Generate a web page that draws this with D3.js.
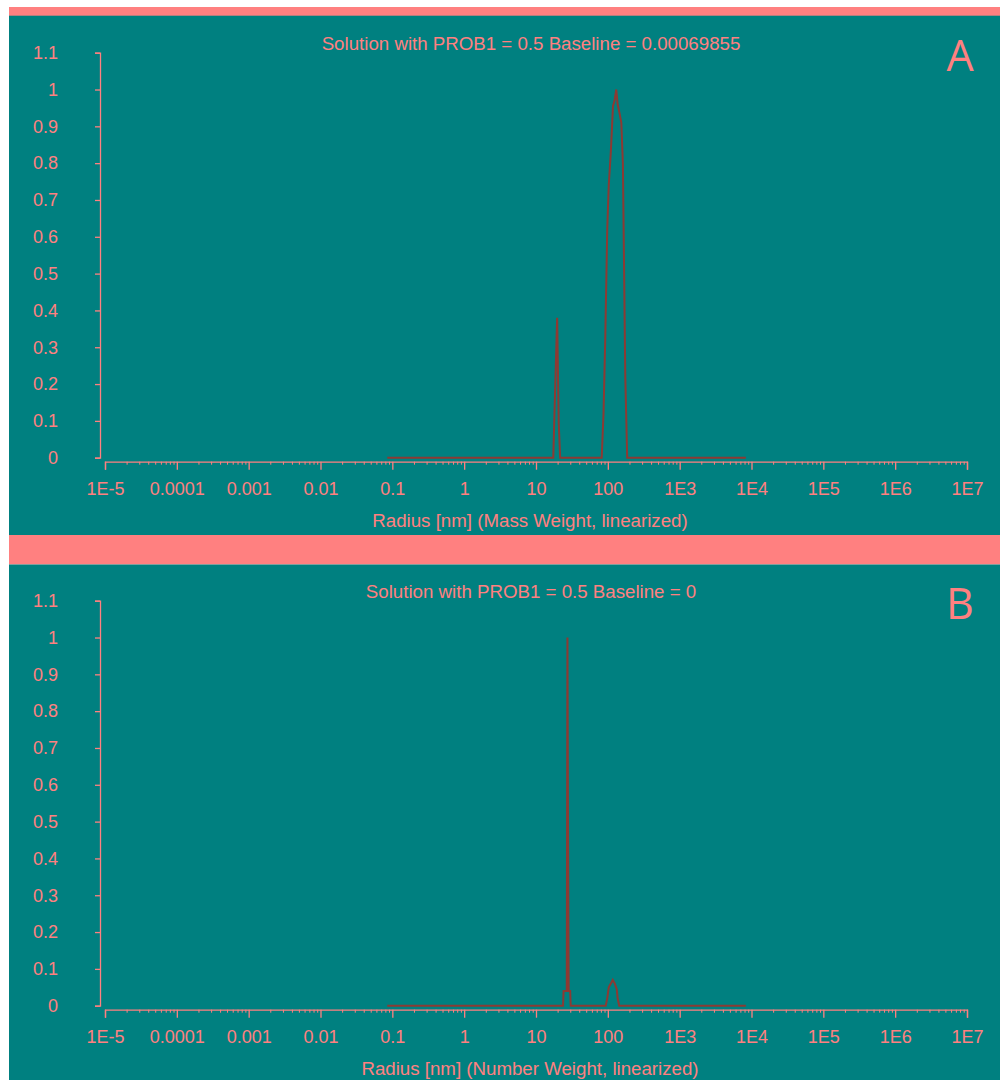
<!DOCTYPE html>
<html>
<head>
<meta charset="utf-8">
<script src="https://cdn.jsdelivr.net/npm/d3@7"></script>
<style>
  html, body { margin: 0; padding: 0; background: #ffffff; }
  svg { display: block; }
  text { font-family: "Liberation Sans", Arial, sans-serif; fill: #ff8080; }
</style>
</head>
<body>
<svg id="chart" width="1000" height="1080"></svg>
<script>
// Radius grid (nm) and normalised intensities for the mass-weighted solution
const radiusMass = [0.085, 17.4, 18.5, 19.7, 20.7, 21.7, 82.2, 87.1, 92.0, 98.1, 103, 110, 118, 124, 131, 137, 144, 154, 162, 175, 186, 8340];
const valueMass  = [0, 0, 0.19, 0.38, 0.095, 0, 0, 0.12, 0.32, 0.62, 0.74, 0.83, 0.955, 0.97, 1.0, 0.96, 0.94, 0.91, 0.80, 0.22, 0, 0];

// Radius grid (nm) and normalised intensities for the number-weighted solution
const radiusNumber = [0.085, 23.8, 24.2, 26.8, 27.4, 27.9, 28.5, 29.9, 30.4, 93.5, 98.1, 103, 110, 117, 125, 133, 137, 144, 8340];
const valueNumber  = [0, 0, 0.04, 0.04, 1.0, 0.5, 0.04, 0.04, 0, 0, 0.02, 0.05, 0.06, 0.07, 0.06, 0.045, 0.02, 0, 0];

// Axis tick values and their printed labels
const xTickValues = [1e-5, 1e-4, 1e-3, 1e-2, 1e-1, 1, 10, 100, 1e3, 1e4, 1e5, 1e6, 1e7];
const xTickLabels = ["1E-5", "0.0001", "0.001", "0.01", "0.1", "1", "10", "100", "1E3", "1E4", "1E5", "1E6", "1E7"];
const yTickValues = [0, 0.1, 0.2, 0.3, 0.4, 0.5, 0.6, 0.7, 0.8, 0.9, 1, 1.1];

// Panel texts
const panelTitles = ["Solution with PROB1 = 0.5 Baseline = 0.00069855", "Solution with PROB1 = 0.5 Baseline = 0"];
const axisTitles = ["Radius [nm] (Mass Weight, linearized)", "Radius [nm] (Number Weight, linearized)"];
const panelLetters = ["A", "B"];

const TEAL = "#008080";
const SALMON = "#ff8080";
const CURVE = "#8c3a33";

const svg = d3.select("#chart");

// Frame: salmon top bar, two teal panels separated by a salmon band
svg.append("rect").attr("x", 9).attr("y", 7).attr("width", 991).attr("height", 9).attr("fill", SALMON);
svg.append("rect").attr("x", 9).attr("y", 15.7).attr("width", 991).attr("height", 519.3).attr("fill", TEAL);
svg.append("rect").attr("x", 9).attr("y", 535).attr("width", 991).attr("height", 29.5).attr("fill", SALMON);
svg.append("rect").attr("x", 9).attr("y", 564.5).attr("width", 991).attr("height", 515.5).attr("fill", TEAL);

const x = d3.scaleLog().domain([1e-5, 1e7]).range([105, 967]);
const y = d3.scaleLinear().domain([0, 1.1]).range([457.7, 52.7]);

function drawPanel(offsetY, radii, values, title, axisTitle, letter) {
  const g = svg.append("g").attr("transform", `translate(0,${offsetY})`);

  // minor x ticks (2..9 in every decade)
  const minor = x.ticks(20).filter(v => !xTickValues.some(t => Math.abs(Math.log10(v) - Math.log10(t)) < 1e-9));
  const minorAxis = g.append("g")
    .attr("transform", "translate(0,461.7)")
    .call(d3.axisBottom(x).tickValues(minor).tickSize(3).tickFormat(""));
  minorAxis.select(".domain").remove();
  minorAxis.selectAll("line").attr("stroke", SALMON);

  // major x ticks with labels
  const xAxis = g.append("g")
    .attr("transform", "translate(0,461.7)")
    .call(d3.axisBottom(x).tickValues(xTickValues).tickSize(8).tickSizeOuter(8).tickPadding(13)
      .tickFormat((d, i) => xTickLabels[i]));
  xAxis.select(".domain").attr("stroke", SALMON).attr("stroke-width", 1.3);
  xAxis.selectAll("line").attr("stroke", SALMON).attr("stroke-width", 1.3);
  xAxis.selectAll("text").attr("fill", SALMON).style("font-size", "18px")
    .style("font-family", "'Liberation Sans', Arial, sans-serif");

  // y axis
  const yAxis = g.append("g")
    .attr("transform", "translate(100,0)")
    .call(d3.axisLeft(y).tickValues(yTickValues).tickSize(5).tickSizeOuter(5).tickPadding(37)
      .tickFormat(d => String(+d.toFixed(1))));
  yAxis.select(".domain").attr("stroke", SALMON).attr("stroke-width", 1.3);
  yAxis.selectAll("line").attr("stroke", SALMON).attr("stroke-width", 1.3);
  yAxis.selectAll("text").attr("fill", SALMON).style("font-size", "18px")
    .style("font-family", "'Liberation Sans', Arial, sans-serif");

  // distribution curve
  const pts = radii.map((r, i) => [r, values[i]]);
  g.append("path")
    .datum(pts)
    .attr("fill", "none")
    .attr("stroke", CURVE)
    .attr("stroke-width", 2)
    .attr("stroke-linejoin", "miter")
    .attr("d", d3.line().x(d => x(d[0])).y(d => y(d[1])));

  // titles
  g.append("text").attr("x", 531).attr("y", 49.5).attr("text-anchor", "middle")
    .style("font-size", "18.7px").text(title);
  g.append("text").attr("x", 530).attr("y", 526.5).attr("text-anchor", "middle")
    .style("font-size", "18.7px").text(axisTitle);
  g.append("text").attr("x", 960).attr("y", 71).attr("text-anchor", "middle")
    .style("font-family", "'Open Sans', 'Noto Sans', sans-serif").style("font-size", "43px")
    .text(letter);
}

drawPanel(0, radiusMass, valueMass, panelTitles[0], axisTitles[0], panelLetters[0]);
drawPanel(548, radiusNumber, valueNumber, panelTitles[1], axisTitles[1], panelLetters[1]);
</script>
</body>
</html>
